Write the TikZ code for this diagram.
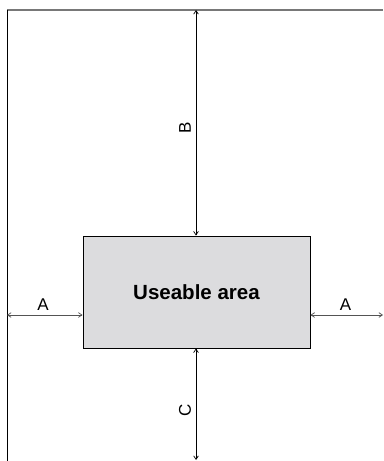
\documentclass[tikz,border=0pt]{standalone}
\usepackage{fontspec}
\setmainfont{Liberation Sans}
\usetikzlibrary{arrows.meta}
\definecolor{areagray}{RGB}{220,220,222}
\definecolor{edgegray}{RGB}{120,120,120}
\begin{document}
\begin{tikzpicture}[x=0.03cm, y=-0.03cm, >={Straight Barb[length=3pt,width=4pt]}]
	\useasboundingbox (0, 0) rectangle (383, 461);
	\node[draw, fill=areagray, line width=0.8pt, inner sep=0pt, minimum width=6.81cm, minimum height=3.36cm, font=\fontsize{17.5}{20}\selectfont\bfseries] (0) at (196.5, 292) {Useable area};
	\node (1) at (7, 10) {};
	\node (2) at (383, 10) {};
	\node (3) at (7, 461) {};
	\node (4) at (196, 10) {};
	\node (5) at (196, 460) {};
	\node (6) at (7, 315) {};
	\node (7) at (383, 315) {};
	\node[font=\fontsize{14.5}{17}\selectfont] (8) at (43, 305) {A};
	\node[font=\fontsize{14.5}{17}\selectfont] (9) at (345.5, 305) {A};
	\node[rotate=90, font=\fontsize{14.5}{17}\selectfont] (10) at (185, 128) {B};
	\node[rotate=90, font=\fontsize{14.5}{17}\selectfont] (11) at (185, 410) {C};
	\draw[edgegray, line width=1pt] (1.center) to (2.center);
	\draw[line width=0.7pt] (1.center) to (3.center);
	\draw[<->, line width=0.6pt] (4.center) to (0.north -| 4);
	\draw[<->, line width=0.6pt] (0.south -| 5) to (5.center);
	\draw[<->, edgegray!70!black, line width=0.6pt] (6.center) to (0.west |- 6);
	\draw[<->, edgegray!70!black, line width=0.6pt] (0.east |- 7) to (7.center);
\end{tikzpicture}
\end{document}
